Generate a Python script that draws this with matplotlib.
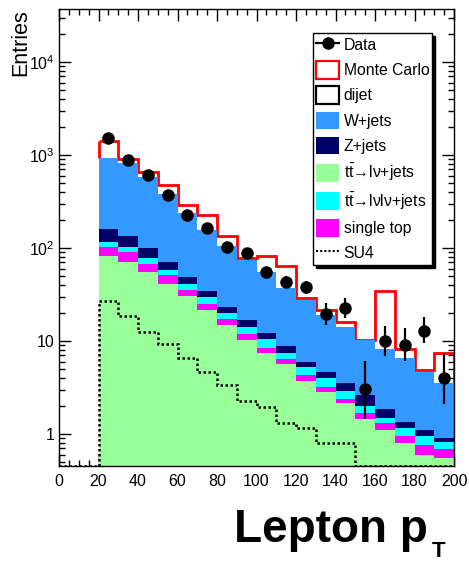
import numpy as np
import matplotlib
matplotlib.use("Agg")
import matplotlib.pyplot as plt
from matplotlib.patches import Patch
from matplotlib.lines import Line2D
from matplotlib.ticker import FixedLocator, MultipleLocator, LogLocator, NullFormatter

plt.rcParams['font.family'] = ['Liberation Sans', 'DejaVu Sans']
plt.rcParams['mathtext.fontset'] = 'custom'
plt.rcParams['mathtext.rm'] = 'Liberation Sans'
plt.rcParams['mathtext.it'] = 'Liberation Sans:italic'
plt.rcParams['mathtext.bf'] = 'Liberation Sans:bold'

# lepton pT bins, 10 GeV wide from 20 to 200
edges = np.arange(20, 201, 10)

# stacked backgrounds, bottom to top
tt_lv = [82.6, 71, 55.6, 41, 30.5, 21.5, 14.9, 10.2, 7.4, 5.6, 3.74, 2.85, 2.14, 1.44, 1.1, 0.79, 0.59, 0.55]
single_top = [20.4, 20, 12.4, 10, 4.5, 3.5, 2.4, 1.7, 1.1, 0.76, 0.56, 0.38, 0.24, 0.23, 0.2, 0.17, 0.17, 0.14]
tt_lvlv = [14, 12, 11, 7, 6, 5, 2.7, 2.4, 1.9, 1.14, 0.9, 0.74, 0.54, 0.33, 0.2, 0.19, 0.19, 0.12]
z_jets = [43, 33, 20, 13, 8, 4.7, 3.4, 2.5, 1.9, 1.4, 0.8, 0.73, 0.64, 0.63, 0.36, 0.19, 0.15, 0.09]
w_jets = [761, 677, 476, 309, 187, 123, 82, 57, 43, 28.6, 21.6, 14.3, 10.7, 7.6, 6.3, 5.2, 3.6, 2.66]
dijet = [484, 93, 85, 95, 54, 71, 30, 3.5, 26, 27, 1.6, 2.5, 1.8, 0, 26.3, 1.7, 0.2, 3.8]

# data
data = [1510, 884, 609, 372, 226, 163, 103, 88, 55.6, 43.4, 38, 19.5, 22.6, 3.05, 10, 9.0, 12.8, 4.0]
err_lo = [39, 30, 25, 19, 15, 13, 10, 9.4, 7.5, 6.6, 6.2, 4.6, 5.0, 1.6, 3.1, 2.9, 3.3, 1.9]
err_hi = [39, 30, 25, 19, 15, 13, 10, 9.4, 7.5, 6.6, 6.2, 6.1, 6.4, 3.1, 4.5, 4.8, 5.3, 3.4]

# SU4 signal, not stacked (0-200)
su4_edges = np.arange(0, 201, 10)
su4 = [0, 0, 26.9, 18.6, 12.6, 9.4, 6.5, 4.7, 3.4, 2.26, 1.94, 1.3, 1.17, 0.81, 0.81, 0, 0, 0, 0, 0]

ymin, ymax = 0.453, 3.72e4

samples = [
    ("t$\\mathrm{\\bar{t}}$\u2192l\u03bd+jets", tt_lv, "#99ff99"),
    ("single top", single_top, "#ff00ff"),
    ("t$\\mathrm{\\bar{t}}$\u2192l\u03bdl\u03bd+jets", tt_lvlv, "#00ffff"),
    ("Z+jets", z_jets, "#000066"),
    ("W+jets", w_jets, "#3399ff"),
]

fig = plt.figure(figsize=(4.69, 5.62), dpi=100)
ax = fig.add_axes([59/469, 96/562, 395/469, 457/562])
ax.set_yscale('log')

# stack
bottom = np.full(len(edges) - 1, 1e-3)
for name, vals, col in samples:
    top = bottom + np.array(vals)
    ax.stairs(top, edges, baseline=bottom, fill=True, color=col, lw=0, zorder=2)
    bottom = top
w_top = bottom
total = w_top + np.array(dijet)
ax.stairs(total, edges, baseline=w_top, fill=True, color='white', lw=0, zorder=1)

# total MC outline
ax.stairs(total, edges, baseline=None, color='red', lw=2, zorder=1.5)
ax.vlines([edges[0], edges[-1]], [w_top[0], w_top[-1]], [total[0], total[-1]],
          color='red', lw=2, zorder=1.5)

# SU4
ax.stairs(np.maximum(su4, ymin * 1.01), su4_edges, baseline=None, color='black',
          lw=1.8, linestyle=(0, (1, 1)), zorder=3)

# data points
centers = edges[:-1] + 5
ax.errorbar(centers, data, yerr=[err_lo, err_hi], fmt='o', color='black',
            ms=8, elinewidth=1.6, capsize=0, zorder=5)

ax.set_xlim(0, 200)
ax.set_ylim(ymin, ymax)
ax.xaxis.set_major_locator(MultipleLocator(20))
ax.xaxis.set_minor_locator(MultipleLocator(5))
ax.yaxis.set_major_locator(FixedLocator([1, 10, 100, 1000, 10000]))
ax.set_yticklabels(['1', '10', '$10^{2}$', '$10^{3}$', '$10^{4}$'])
ax.yaxis.set_minor_locator(LogLocator(base=10, subs=np.arange(2, 10)))
ax.yaxis.set_minor_formatter(NullFormatter())
ax.tick_params(which='both', direction='in', top=True, right=True, labelsize=11.5)
ax.tick_params(which='major', length=8.6, width=1)
ax.tick_params(which='minor', length=4.3, width=1)
ax.tick_params(axis='x', pad=6)
ax.tick_params(axis='y', pad=3)
for s in ax.spines.values():
    s.set_linewidth(1)

handles = [
    Line2D([], [], color='black', marker='o', ms=8, lw=1.6),
    Patch(facecolor='white', edgecolor='red', lw=1.6),
    Patch(facecolor='white', edgecolor='black', lw=1.6),
    Patch(facecolor="#3399ff"),
    Patch(facecolor="#000066"),
    Patch(facecolor="#99ff99"),
    Patch(facecolor="#00ffff"),
    Patch(facecolor="#ff00ff"),
    Line2D([], [], color='black', lw=1.5, linestyle=(0, (1, 1))),
]
labels = ["Data", "Monte Carlo", "dijet", "W+jets", "Z+jets",
          samples[0][0], samples[2][0], "single top", "SU4"]
leg = ax.legend(handles, labels, loc='upper left', bbox_to_anchor=(0.643, 0.9475),
                fontsize=11.3, frameon=True, fancybox=False, borderaxespad=0,
                borderpad=0.2, handlelength=1.45, handleheight=1.35,
                handletextpad=0.3, labelspacing=0.48,
                shadow={'color': 'black', 'alpha': 1})
leg.get_frame().set_edgecolor('black')
leg.get_frame().set_linewidth(1)
leg.set_zorder(10)

fig.text(21/469, 1 - 9/562, "Entries", rotation=90, ha='center', va='top', fontsize=15.5)
fig.text(234/469, 1 - 542/562, "Lepton p", ha='left', va='baseline',
         fontsize=33, fontweight='bold')
fig.text(432/469, 1 - 557/562, "T", ha='left', va='baseline', fontsize=16, fontweight='bold')

fig.savefig("out.png", dpi=100)
